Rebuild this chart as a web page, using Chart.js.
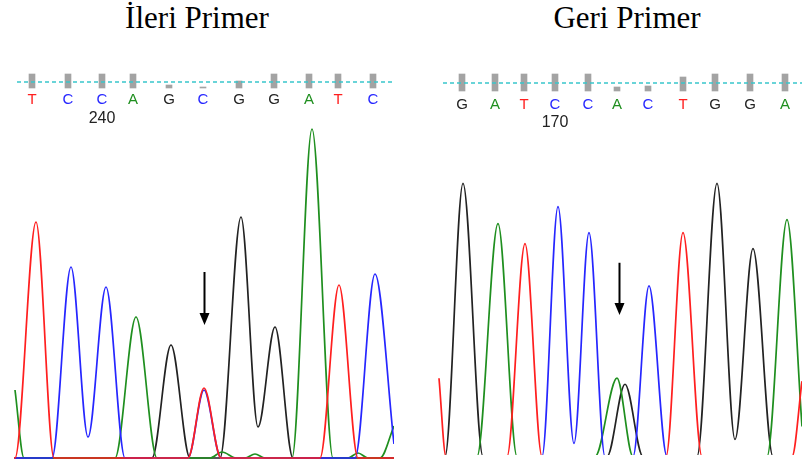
<!DOCTYPE html>
<html>
<head>
<meta charset="utf-8">
<script src="https://cdn.jsdelivr.net/npm/chart.js@4/dist/chart.umd.min.js"></script>
<style>
  body { margin: 0; background: #fff; width: 802px; height: 465px; position: relative; overflow: hidden; }
  .title { position: absolute; top: 2px; width: 300px; text-align: center; font-family: "Liberation Serif", "Times New Roman", serif; font-size: 31px; line-height: 31px; color: #000; }
  .panel { position: absolute; top: 60px; }
</style>
</head>
<body>
<div class="title" style="left:47px">İleri Primer</div>
<div class="title" style="left:477px">Geri Primer</div>
<div class="panel" style="left:14px;width:380px;height:404px"><canvas id="ileri"></canvas></div>
<div class="panel" style="left:437px;width:365px;height:395px"><canvas id="geri"></canvas></div>
<script>
// trace colours: A green, C blue, G black, T red
const baseColors = { A: '#1f8f1f', C: '#2626ff', G: '#222222', T: '#ff1f1f' };

// İleri primer traces, [scan, signal]
const ileriT = [[0, 0], [1, 0], [22, 236], [40, 0], [174, 0], [190, 70], [207, 0], [306, 0], [325, 173], [344, 0], [380, 0]];
const ileriC = [[0, 0], [38, 0], [57, 191], [74, 21], [92, 171], [111, 0], [174, 0], [190, 68], [207, 0], [341, 0], [361, 184], [380, 14]];
const ileriA = [[1, 68], [10, 0], [101, 0], [122, 141], [143, 0], [196, 0], [208, 6], [222, 0], [231, 0], [241, 4], [251, 0], [278, 0], [298, 329], [319, 0], [334, 0], [344, 5], [354, 0], [366, 0], [380, 32]];
const ileriG = [[0, 0], [138, 0], [157, 113], [176, 0], [206, 0], [227, 241], [244, 31], [261, 131], [279, 0], [380, 0]];
const ileriBases = ['T', 'C', 'C', 'A', 'G', 'C', 'G', 'G', 'A', 'T', 'C'];
const ileriCallScan = [18, 54, 88, 119, 155, 189, 225, 260, 295, 324, 359];
const ileriQuality = [14, 14, 14, 14, 3, 1, 7, 14, 14, 14, 14];

// Geri primer traces
const geriT = [[2, 78], [9, 0], [70, 0], [88, 212], [105, 0], [229, 0], [246, 223], [265, 0], [355, 0], [365, 75]];
const geriC = [[0, 0], [105, 0], [121, 249], [137, 13], [152, 223], [168, 0], [196, 0], [212, 170], [230, 0], [365, 0]];
const geriA = [[0, 0], [40, 0], [61, 232], [80, 0], [158, 0], [180, 78], [196, 0], [330, 0], [350, 236], [365, 30]];
const geriG = [[0, 0], [8, 0], [26, 272], [46, 0], [170, 0], [188, 72], [206, 0], [260, 0], [280, 272], [298, 17], [316, 207], [336, 0], [365, 0]];
const geriBases = ['G', 'A', 'T', 'C', 'C', 'A', 'C', 'T', 'G', 'G', 'A'];
const geriCallScan = [25, 58, 87, 118, 151, 180, 211, 246, 278, 313, 348];
const geriQuality = [17, 17, 17, 17, 17, 4, 5, 14, 17, 17, 17];

function callsPlugin(cfg) {
    return {
        id: 'calls',
        afterDatasetsDraw(chart) {
            const ctx = chart.ctx, x = chart.scales.x, y = chart.scales.y, q = chart.scales.q, a = chart.chartArea;
            ctx.save();
            // dashed line through the quality bars
            const ly = Math.round(q.getPixelForValue(cfg.lineQ));
            ctx.strokeStyle = '#38c6cc';
            ctx.lineWidth = 1.5;
            ctx.setLineDash([4, 3]);
            ctx.beginPath();
            ctx.moveTo(a.left + cfg.lineStart, ly);
            ctx.lineTo(a.right, ly);
            ctx.stroke();
            ctx.setLineDash([]);

            ctx.textAlign = 'center';
            ctx.textBaseline = 'middle';
            ctx.font = '15px "Liberation Sans", Arial, sans-serif';
            cfg.bases.forEach(function (b, i) {
                ctx.fillStyle = baseColors[b];
                ctx.fillText(b, x.getPixelForValue(cfg.callScan[i]), q.getPixelForValue(cfg.letterQ));
            });
            ctx.fillStyle = '#222';
            ctx.font = '16px "Liberation Sans", Arial, sans-serif';
            ctx.fillText(cfg.tickLabel, x.getPixelForValue(cfg.callScan[cfg.tickIndex]), q.getPixelForValue(cfg.tickQ));

            // arrow at the mixed peak
            const ax = Math.round(x.getPixelForValue(cfg.arrow[0])) + 0.5;
            const at = y.getPixelForValue(cfg.arrow[1]);
            const ab = y.getPixelForValue(cfg.arrow[2]);
            ctx.strokeStyle = '#000';
            ctx.lineWidth = 2;
            ctx.beginPath();
            ctx.moveTo(ax, at);
            ctx.lineTo(ax, ab - 10);
            ctx.stroke();
            ctx.fillStyle = '#000';
            ctx.beginPath();
            ctx.moveTo(ax - 5, ab - 12);
            ctx.lineTo(ax + 5, ab - 12);
            ctx.lineTo(ax, ab);
            ctx.closePath();
            ctx.fill();
            ctx.restore();
        }
    };
}

function trace(data, base) {
    return {
        type: 'line',
        data: data,
        borderColor: baseColors[base],
        borderWidth: 1.7,
        pointRadius: 0,
        fill: false,
        clip: 0,
        cubicInterpolationMode: 'monotone',
        yAxisID: 'y'
    };
}

function buildPanel(id, p) {
    new Chart(document.getElementById(id), {
        type: 'line',
        data: {
            datasets: [
                trace(p.T, 'T'), trace(p.C, 'C'), trace(p.A, 'A'), trace(p.G, 'G'),
                {
                    type: 'bar',
                    data: p.callScan.map(function (s, i) { return { x: s, y: p.quality[i] }; }),
                    backgroundColor: '#a3a3a3',
                    barThickness: 6,
                    yAxisID: 'q'
                }
            ]
        },
        options: {
            responsive: true,
            maintainAspectRatio: false,
            animation: false,
            events: [],
            layout: { padding: 0 },
            plugins: { legend: { display: false }, tooltip: { enabled: false } },
            scales: {
                x: { type: 'linear', min: 0, max: p.xMax, offset: false, display: false },
                y: { type: 'linear', min: p.yMin, max: p.yMax, display: false },
                q: { type: 'linear', min: p.qMin, max: p.qMax, display: false }
            }
        },
        plugins: [callsPlugin(p)]
    });
}

buildPanel('ileri', {
    T: ileriT, C: ileriC, A: ileriA, G: ileriG,
    bases: ileriBases, callScan: ileriCallScan, quality: ileriQuality,
    tickIndex: 2, tickLabel: '240', arrow: [190, 186, 133],
    xMax: 380, yMin: -6, yMax: 398, qMin: -376, qMax: 28,
    lineQ: 6, letterQ: -12, tickQ: -31, lineStart: 3
});

buildPanel('geri', {
    T: geriT, C: geriC, A: geriA, G: geriG,
    bases: geriBases, callScan: geriCallScan, quality: geriQuality,
    tickIndex: 3, tickLabel: '170', arrow: [182, 193, 141],
    xMax: 365, yMin: 1.5, yMax: 395, qMin: -364, qMax: 31,
    lineQ: 8, letterQ: -14, tickQ: -32, lineStart: 6
});
</script>
</body>
</html>
